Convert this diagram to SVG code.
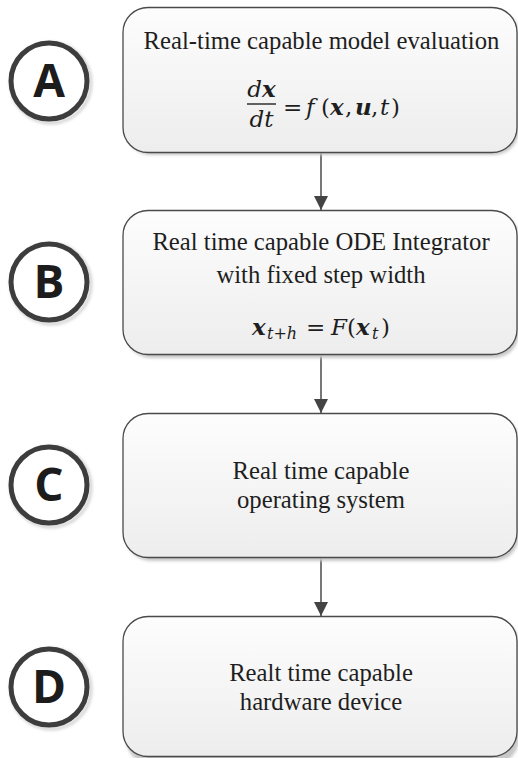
<svg xmlns="http://www.w3.org/2000/svg" width="518" height="758" viewBox="0 0 518 758">
<style>
.box{fill:url(#g);stroke:#4a4a4a;stroke-width:1.3}
.sh{fill:#c8c8c8;filter:url(#b)}
.t{font-family:"Liberation Serif","Times New Roman",serif;font-size:24.7px;fill:#1e1e1e;text-anchor:middle}
.m{font-family:"DejaVu Serif",serif;font-style:italic;font-size:23px;fill:#1e1e1e}
.mb{font-weight:bold}
.sub{font-size:16px}
.ring{fill:#fff;stroke:#3d3d3d;stroke-width:5}
.rsh{fill:none;stroke:#d0d0d0;stroke-width:3;filter:url(#b)}
.lt{font-family:"Open Sans","Liberation Sans",Arial,sans-serif;font-weight:bold;font-size:46px;fill:#1c1c1c;text-anchor:middle}
.c{stroke:#4a4a4a;stroke-width:1.5;fill:none;marker-end:url(#ah)}
</style>
<defs>
<linearGradient id="g" x1="0" y1="0" x2="0" y2="1">
<stop offset="0" stop-color="#fdfdfd"/>
<stop offset="1" stop-color="#ededed"/>
</linearGradient>
<filter id="b" x="-10%" y="-10%" width="120%" height="120%"><feGaussianBlur stdDeviation="1.5"/></filter>
<marker id="ah" viewBox="0 0 14 14" refX="14" refY="7" markerWidth="14" markerHeight="14" markerUnits="userSpaceOnUse" orient="auto">
<path d="M0,0 L14,7 L0,14 Z" fill="#444"/>
</marker>
</defs>
<rect width="518" height="758" fill="#fff"/>

<g id="connectors">
<line class="c" x1="321" y1="153" x2="321" y2="210"/>
<line class="c" x1="321" y1="355" x2="321" y2="413"/>
<line class="c" x1="321" y1="558" x2="321" y2="616"/>
</g>

<g id="nodeA">
<rect class="sh" x="126" y="10" width="393" height="145" rx="25"/>
<rect class="box" x="123" y="7.5" width="394" height="145" rx="25"/>
<text class="t" x="321.5" y="49">Real-time capable model evaluation</text>
<text class="m" x="261.5" y="97" text-anchor="middle">d<tspan class="mb">x</tspan></text>
<line x1="247" y1="104" x2="276" y2="104" stroke="#222" stroke-width="1.4"/>
<text class="m" x="261.5" y="127" text-anchor="middle">dt</text>
<text class="m" y="115"><tspan x="283" font-style="normal">=</tspan><tspan x="306">f</tspan><tspan x="321" font-style="normal">(</tspan><tspan x="330" class="mb">x</tspan><tspan x="345" font-style="normal">,</tspan><tspan x="355" class="mb">u</tspan><tspan x="371" font-style="normal">,</tspan><tspan x="380">t</tspan><tspan x="391" font-style="normal">)</tspan></text>
</g>

<g id="nodeB">
<rect class="sh" x="126" y="213" width="393" height="145" rx="25"/>
<rect class="box" x="123" y="210.5" width="394" height="144" rx="25"/>
<text class="t" x="321" y="250">Real time capable ODE Integrator</text>
<text class="t" x="321" y="283">with fixed step width</text>
<text class="m" y="335"><tspan x="252" class="mb">x</tspan><tspan x="267" y="339" class="sub">t+h</tspan><tspan x="306" y="335" font-style="normal">=</tspan><tspan x="331">F</tspan><tspan x="347" font-style="normal">(</tspan><tspan x="356" class="mb">x</tspan><tspan x="372" y="339" class="sub">t</tspan><tspan x="381" y="335" font-style="normal">)</tspan></text>
</g>

<g id="nodeC">
<rect class="sh" x="126" y="416" width="393" height="145" rx="25"/>
<rect class="box" x="123" y="413.5" width="394" height="144" rx="25"/>
<text class="t" x="321" y="479">Real time capable</text>
<text class="t" x="321" y="508">operating system</text>
</g>

<g id="nodeD">
<rect class="sh" x="126" y="619" width="393" height="145" rx="25"/>
<rect class="box" x="123" y="616.5" width="394" height="140" rx="25"/>
<text class="t" x="321" y="681">Realt time capable</text>
<text class="t" x="321" y="710">hardware device</text>
</g>

<g id="circleA">
<circle class="rsh" cx="51" cy="83" r="40"/>
<circle class="ring" cx="49" cy="81" r="38"/>
<text class="lt" x="49" y="97">A</text>
</g>
<g id="circleB">
<circle class="rsh" cx="51" cy="284" r="40"/>
<circle class="ring" cx="49" cy="282" r="38"/>
<text class="lt" x="49" y="298">B</text>
</g>
<g id="circleC">
<circle class="rsh" cx="51" cy="487" r="40"/>
<circle class="ring" cx="49" cy="485" r="38"/>
<text class="lt" x="49" y="501">C</text>
</g>
<g id="circleD">
<circle class="rsh" cx="51" cy="689" r="40"/>
<circle class="ring" cx="49" cy="687" r="38"/>
<text class="lt" x="49" y="703">D</text>
</g>
</svg>
